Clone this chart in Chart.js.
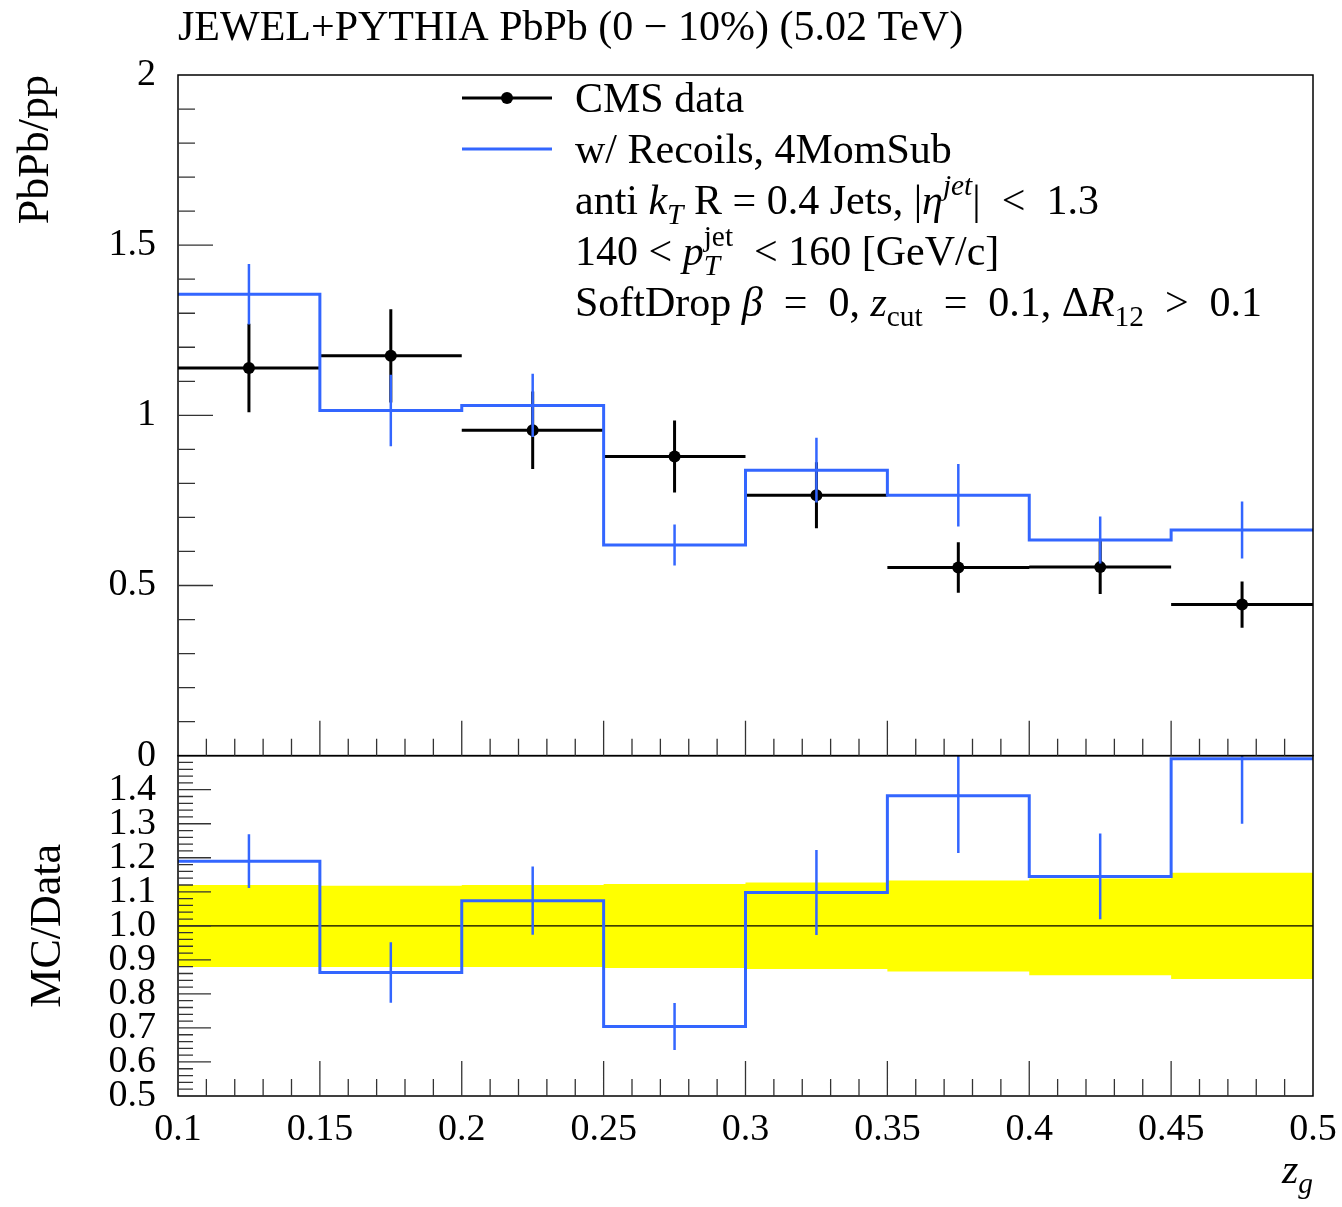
<!DOCTYPE html>
<html>
<head>
<meta charset="utf-8">
<title>JEWEL+PYTHIA z_g</title>
<script src="https://cdn.jsdelivr.net/npm/chart.js@4.4.1/dist/chart.umd.min.js"></script>
<style>
  html, body { margin: 0; padding: 0; background: #fff; }
  #wrap { width: 1342px; height: 1207px; }
</style>
</head>
<body>
<div id="wrap"><canvas id="zgChart" width="1342" height="1207"></canvas></div>
<script>
// z_g binning
const binEdges = [0.1, 0.15, 0.2, 0.25, 0.3, 0.35, 0.4, 0.45, 0.5];
const binCenters = [0.125, 0.175, 0.225, 0.275, 0.325, 0.375, 0.425, 0.475];
const binHalfWidth = 0.025;

// CMS data, PbPb/pp
const cmsValues = [1.139, 1.175, 0.956, 0.879, 0.765, 0.553, 0.554, 0.444];
const cmsErrors = [0.130, 0.137, 0.114, 0.106, 0.097, 0.074, 0.079, 0.068];

// JEWEL w/ Recoils, 4MomSub
const mcValues = [1.356, 1.014, 1.029, 0.619, 0.839, 0.765, 0.634, 0.663];
const mcErrors = [0.089, 0.105, 0.093, 0.060, 0.095, 0.092, 0.069, 0.084];

// MC/Data
const ratioValues = [1.190, 0.863, 1.074, 0.704, 1.098, 1.382, 1.145, 1.491];
const ratioErrors = [0.079, 0.089, 0.100, 0.069, 0.125, 0.168, 0.126, 0.191];

// data uncertainty band
const bandUpper = [1.120, 1.118, 1.120, 1.123, 1.127, 1.133, 1.139, 1.156];
const bandLower = [0.879, 0.879, 0.879, 0.876, 0.873, 0.866, 0.855, 0.844];

// tick labels
const xTickValues = [0.1, 0.15, 0.2, 0.25, 0.3, 0.35, 0.4, 0.45, 0.5];
const xTickLabels = ['0.1', '0.15', '0.2', '0.25', '0.3', '0.35', '0.4', '0.45', '0.5'];
const mainTickValues = [0, 0.5, 1, 1.5, 2];
const mainTickLabels = ['0', '0.5', '1', '1.5', '2'];
const ratioTickValues = [0.5, 0.6, 0.7, 0.8, 0.9, 1.0, 1.1, 1.2, 1.3, 1.4];
const ratioTickLabels = ['0.5', '0.6', '0.7', '0.8', '0.9', '1.0', '1.1', '1.2', '1.3', '1.4'];

const FONT = '"Liberation Serif", "Times New Roman", serif';
const BLUE = '#3366ff';
const TEXT_SIZE = 42;

// histogram points on bin edges, last value repeated to close the final bin
function stepPoints(values) {
    return binEdges.map((x, i) => ({ x, y: values[Math.min(i, values.length - 1)] }));
}

function fixedTicks(values) {
    return scale => { scale.ticks = values.map(v => ({ value: v })); };
}

// vertical (and optional horizontal) error bars, clipped to the dataset's panel
const errorBars = {
    id: 'errorBars',
    afterDatasetDraw(chart, args) {
        const ds = chart.data.datasets[args.index];
        if (!ds.errorBars) return;
        const { x: xs, y: ys, err, halfWidth, lineWidth } = ds.errorBars;
        const xScale = chart.scales.x;
        const yScale = chart.scales[ds.yAxisID];
        const ctx = chart.ctx;
        ctx.save();
        ctx.beginPath();
        ctx.rect(xScale.left, yScale.top, xScale.right - xScale.left, yScale.bottom - yScale.top);
        ctx.clip();
        ctx.strokeStyle = ds.errorBars.color;
        ctx.lineWidth = lineWidth;
        ctx.beginPath();
        xs.forEach((xv, i) => {
            const px = xScale.getPixelForValue(xv);
            const py = yScale.getPixelForValue(ys[i]);
            ctx.moveTo(px, yScale.getPixelForValue(ys[i] + err[i]));
            ctx.lineTo(px, yScale.getPixelForValue(ys[i] - err[i]));
            if (halfWidth) {
                ctx.moveTo(xScale.getPixelForValue(xv - halfWidth), py);
                ctx.lineTo(xScale.getPixelForValue(xv + halfWidth), py);
            }
        });
        ctx.stroke();
        ctx.restore();
    }
};

// panel frames and inward tick marks
const frameTicks = {
    id: 'frameTicks',
    afterDatasetsDraw(chart) {
        const { ctx, scales: { x, yMain, yRatio } } = chart;
        ctx.save();
        ctx.strokeStyle = '#000';
        ctx.lineWidth = 1.5;
        [yMain, yRatio].forEach(y => ctx.strokeRect(x.left, y.top, x.right - x.left, y.bottom - y.top));

        ctx.strokeStyle = '#333';
        ctx.lineWidth = 1.3;
        ctx.beginPath();
        for (const y of [yMain, yRatio]) {
            for (let k = 1; k < 40; k++) {
                const px = x.getPixelForValue(0.1 + k * 0.01);
                const len = k % 5 === 0 ? 35 : 17;
                ctx.moveTo(px, y.bottom);
                ctx.lineTo(px, y.bottom - len);
            }
        }
        for (let k = 1; k < 20; k++) {
            const py = yMain.getPixelForValue(k * 0.1);
            const len = k % 5 === 0 ? 35 : 17;
            ctx.moveTo(x.left, py);
            ctx.lineTo(x.left + len, py);
        }
        for (let k = 1; k < 50; k++) {
            const py = yRatio.getPixelForValue(0.5 + k * 0.02);
            const len = k % 5 === 0 ? 33 : 15;
            ctx.moveTo(x.left, py);
            ctx.lineTo(x.left + len, py);
        }
        ctx.stroke();
        ctx.restore();
    }
};

// text with italics, sub- and superscripts
function partStyle(style, size) {
    style = style || '';
    const small = /sub|sup/.test(style);
    const italic = style[0] === 'i';
    const s = small ? size * 0.7 : size;
    let dy = 0;
    if (style.endsWith('sub')) dy = size * 0.24;
    if (style.endsWith('sup')) dy = -size * 0.45;
    return { font: `${italic ? 'italic ' : ''}${s}px ${FONT}`, dy };
}

function drawRich(ctx, parts, x, y, size, align) {
    const measure = () => parts.reduce((w, p) => {
        let pw = 0;
        for (let j = 0; j < p.length; j += 2) {
            ctx.font = partStyle(p[j + 1], size).font;
            pw = Math.max(pw, ctx.measureText(p[j]).width);
        }
        return w + pw;
    }, 0);
    let cx = align === 'right' ? x - measure() : x;
    ctx.textBaseline = 'alphabetic';
    ctx.textAlign = 'left';
    for (const p of parts) {
        let pw = 0;
        for (let j = 0; j < p.length; j += 2) {
            const st = partStyle(p[j + 1], size);
            ctx.font = st.font;
            ctx.fillText(p[j], cx, y + st.dy);
            pw = Math.max(pw, ctx.measureText(p[j]).width);
        }
        cx += pw;
    }
}

const legendLines = [
    [['anti '], ['k', 'i'], ['T', 'isub'], [' R = 0.4 Jets, |'], ['η', 'i'], ['jet', 'isup'], ['|  <  1.3']],
    [['140 < '], ['p', 'i'], ['jet', 'sup', 'T', 'isub'], ['  < 160 [GeV/c]']],
    [['SoftDrop '], ['β', 'i'], ['  =  0, '], ['z', 'i'], ['cut', 'sub'], ['  =  0.1, Δ'], ['R', 'i'], ['12', 'sub'], ['  >  0.1']]
];

const annotations = {
    id: 'annotations',
    afterDraw(chart) {
        const { ctx, scales: { x, yRatio } } = chart;
        ctx.save();
        ctx.fillStyle = '#000';

        // legend entries
        ctx.lineWidth = 3;
        ctx.strokeStyle = '#000';
        ctx.beginPath(); ctx.moveTo(462, 98); ctx.lineTo(552, 98); ctx.stroke();
        ctx.beginPath(); ctx.arc(507, 98, 6, 0, Math.PI * 2); ctx.fill();
        ctx.strokeStyle = BLUE;
        ctx.beginPath(); ctx.moveTo(462, 149); ctx.lineTo(552, 149); ctx.stroke();

        drawRich(ctx, [['CMS data']], 575, 112, TEXT_SIZE);
        drawRich(ctx, [['w/ Recoils, 4MomSub']], 575, 163, TEXT_SIZE);
        legendLines.forEach((line, i) => drawRich(ctx, line, 575, 214 + i * 51, TEXT_SIZE));

        // x axis title
        drawRich(ctx, [['z', 'i'], ['g', 'isub']], x.right, yRatio.bottom + 87, TEXT_SIZE, 'right');
        ctx.restore();
    }
};

Chart.defaults.font.family = FONT;
Chart.defaults.color = '#000';

new Chart(document.getElementById('zgChart'), {
    type: 'line',
    data: {
        datasets: [
            {
                label: 'band upper',
                data: stepPoints(bandUpper),
                yAxisID: 'yRatio',
                stepped: true,
                borderWidth: 0,
                pointRadius: 0,
                fill: false,
                order: 6
            },
            {
                label: 'band lower',
                data: stepPoints(bandLower),
                yAxisID: 'yRatio',
                stepped: true,
                borderWidth: 0,
                pointRadius: 0,
                backgroundColor: '#ffff00',
                fill: '-1',
                order: 5
            },
            {
                label: 'unity',
                data: [{ x: 0.1, y: 1 }, { x: 0.5, y: 1 }],
                yAxisID: 'yRatio',
                borderColor: '#000',
                borderWidth: 1.2,
                pointRadius: 0,
                order: 4
            },
            {
                label: 'MC/Data',
                data: stepPoints(ratioValues),
                yAxisID: 'yRatio',
                stepped: true,
                borderColor: BLUE,
                borderWidth: 3,
                pointRadius: 0,
                fill: false,
                errorBars: { x: binCenters, y: ratioValues, err: ratioErrors, halfWidth: 0, color: BLUE, lineWidth: 2.5 },
                order: 3
            },
            {
                label: 'CMS data',
                data: binCenters.map((x, i) => ({ x, y: cmsValues[i] })),
                yAxisID: 'yMain',
                showLine: false,
                pointRadius: 6,
                pointBackgroundColor: '#000',
                pointBorderWidth: 0,
                errorBars: { x: binCenters, y: cmsValues, err: cmsErrors, halfWidth: binHalfWidth, color: '#000', lineWidth: 3 },
                order: 2
            },
            {
                label: 'w/ Recoils, 4MomSub',
                data: stepPoints(mcValues),
                yAxisID: 'yMain',
                stepped: true,
                borderColor: BLUE,
                borderWidth: 3,
                pointRadius: 0,
                fill: false,
                errorBars: { x: binCenters, y: mcValues, err: mcErrors, halfWidth: 0, color: BLUE, lineWidth: 2.5 },
                order: 1
            }
        ]
    },
    options: {
        responsive: false,
        animation: false,
        devicePixelRatio: 1,
        events: [],
        layout: { padding: { left: 0, right: 29, top: 0, bottom: 0 } },
        plugins: {
            legend: { display: false },
            tooltip: { enabled: false },
            title: {
                display: true,
                text: 'JEWEL+PYTHIA PbPb (0 − 10%) (5.02 TeV)',
                align: 'start',
                fullSize: false,
                color: '#000',
                font: { size: 42, weight: 'normal', lineHeight: 1.2 },
                padding: { top: 4, bottom: 20.6 }
            }
        },
        scales: {
            x: {
                type: 'linear',
                min: 0.1,
                max: 0.5,
                afterBuildTicks: fixedTicks(xTickValues),
                afterFit(scale) { scale.height = 111; },
                grid: { display: false },
                border: { display: false },
                ticks: {
                    autoSkip: false,
                    maxRotation: 0,
                    padding: 3,
                    font: { size: 38 },
                    callback: (v, i) => xTickLabels[i]
                }
            },
            yRatio: {
                type: 'linear',
                position: 'left',
                stack: 'panels',
                stackWeight: 1,
                weight: 0,
                min: 0.5,
                max: 1.5,
                afterBuildTicks: fixedTicks(ratioTickValues),
                afterFit(scale) { scale.width = 178; },
                grid: { display: false },
                border: { display: false },
                ticks: {
                    autoSkip: false,
                    padding: 14,
                    font: { size: 38 },
                    callback: (v, i) => ratioTickLabels[i]
                },
                title: {
                    display: true,
                    text: 'MC/Data',
                    align: 'center',
                    font: { size: 44 },
                    padding: { top: 22 }
                }
            },
            yMain: {
                type: 'linear',
                position: 'left',
                stack: 'panels',
                stackWeight: 2,
                weight: 1,
                min: 0,
                max: 2,
                afterBuildTicks: fixedTicks(mainTickValues),
                afterFit(scale) { scale.width = 178; },
                grid: { display: false },
                border: { display: false },
                ticks: {
                    autoSkip: false,
                    padding: 14,
                    font: { size: 38 },
                    callback: (v, i) => mainTickLabels[i]
                },
                title: {
                    display: true,
                    text: 'PbPb/pp',
                    align: 'end',
                    font: { size: 44 },
                    padding: { top: 10 }
                }
            }
        }
    },
    plugins: [errorBars, frameTicks, annotations]
});
</script>
</body>
</html>
